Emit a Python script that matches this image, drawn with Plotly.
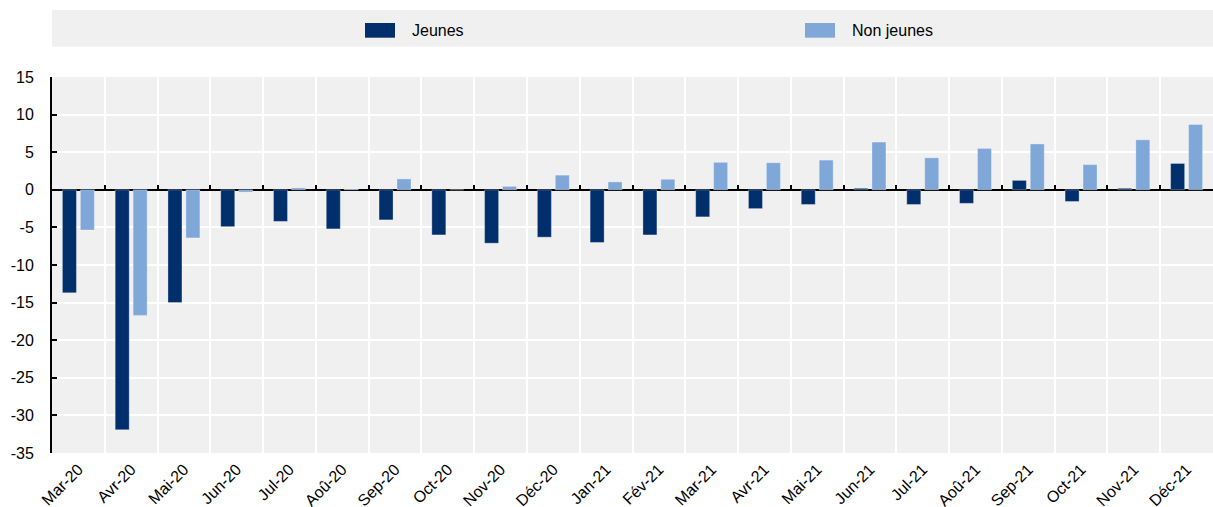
import plotly.graph_objects as go

months = ["Mar-20", "Avr-20", "Mai-20", "Jun-20", "Jul-20", "Aoû-20", "Sep-20", "Oct-20",
          "Nov-20", "Déc-20", "Jan-21", "Fév-21", "Mar-21", "Avr-21", "Mai-21", "Jun-21",
          "Jul-21", "Aoû-21", "Sep-21", "Oct-21", "Nov-21", "Déc-21"]
jeunes = [-13.7, -31.9, -15.0, -4.9, -4.2, -5.2, -4.0, -6.0, -7.1, -6.3, -7.0, -6.0,
          -3.6, -2.5, -1.95, 0.2, -1.95, -1.8, 1.25, -1.55, 0.2, 3.5]
non_jeunes = [-5.35, -16.7, -6.4, -0.3, 0.25, 0.1, 1.45, 0.0, 0.45, 1.95, 1.05, 1.4,
              3.65, 3.6, 3.95, 6.35, 4.25, 5.5, 6.1, 3.35, 6.65, 8.7]
y_tickvals = [15, 10, 5, 0, -5, -10, -15, -20, -25, -30, -35]
y_ticktext = ["15", "10", "5", "0", "-5", "-10", "-15", "-20", "-25", "-30", "-35"]
series_names = ["Jeunes", "Non jeunes"]
colors = ["#002F6C", "#7FA8D9"]

FONT = "Liberation Sans, Arial, sans-serif"

fig = go.Figure()
for name, vals, col in zip(series_names, [jeunes, non_jeunes], colors):
    fig.add_trace(go.Bar(x=months, y=vals, name=name, marker_color=col,
                         marker_line=dict(width=1, color="rgba(255,255,255,0.3)"),
                         showlegend=False))

# invisible trace to carry the zero-line axis with boundary ticks
fig.add_trace(go.Scatter(x=months, y=[0] * len(months), xaxis="x2", mode="markers",
                         marker=dict(opacity=0), showlegend=False, hoverinfo="skip"))

ymin, ymax = -35, 15
zero_pos = (0 - ymin) / (ymax - ymin)

fig.update_layout(
    width=1213, height=507,
    margin=dict(l=52, r=0, t=77, b=54),
    paper_bgcolor="white", plot_bgcolor="#F0F0F0",
    barmode="group", bargap=0.32, bargroupgap=0.22,
    font=dict(family=FONT, size=16, color="black"),
    xaxis=dict(type="category", categoryorder="array", categoryarray=months,
               range=[-0.5, len(months) - 0.5], tickson="boundaries",
               showgrid=True, gridcolor="white", gridwidth=2,
               ticks="", showline=False, tickangle=-45, automargin=False,
               ticklabelstandoff=3,
               tickfont=dict(family=FONT, size=16)),
    xaxis2=dict(type="category", categoryorder="array", categoryarray=months,
                range=[-0.5, len(months) - 0.5], overlaying="x", anchor="free",
                position=zero_pos, side="bottom", tickson="boundaries",
                ticks="inside", ticklen=5, tickwidth=2, tickcolor="black",
                showticklabels=False, showgrid=False, showline=False, zeroline=False),
    yaxis=dict(range=[ymin, ymax], tickmode="array", tickvals=y_tickvals, ticktext=y_ticktext,
               showgrid=True, gridcolor="white", gridwidth=2,
               zeroline=True, zerolinecolor="black", zerolinewidth=2,
               showline=True, linecolor="black", linewidth=2,
               ticks="inside", ticklen=5, tickwidth=2, tickcolor="black",
               ticklabelstandoff=13, automargin=False,
               tickfont=dict(family=FONT, size=16)),
)

# legend band
shapes = [dict(type="rect", xref="paper", yref="paper", x0=0, x1=1,
               y0=(453 - 46.7) / 376, y1=(453 - 10) / 376,
               fillcolor="#F0F0F0", line=dict(width=0), layer="below")]
leg_x = [(365 - 52) / 1161, (805 - 52) / 1161]
annotations = []
for name, col, lx in zip(series_names, colors, leg_x):
    shapes.append(dict(type="rect", xref="paper", yref="paper", x0=lx, x1=lx + 30 / 1161,
                       y0=(453 - 37.7) / 376, y1=(453 - 23) / 376,
                       fillcolor=col, line=dict(width=0)))
    annotations.append(dict(xref="paper", yref="paper", x=lx + 45 / 1161,
                            y=(453 - 30.5) / 376, text=name, showarrow=False,
                            xanchor="left", yanchor="middle",
                            font=dict(family=FONT, size=16, color="black")))
fig.update_layout(shapes=shapes, annotations=annotations)

fig.write_html("out.html", config={"displayModeBar": False},
               post_script="document.body.style.margin='0px';document.body.style.overflow='hidden';")
